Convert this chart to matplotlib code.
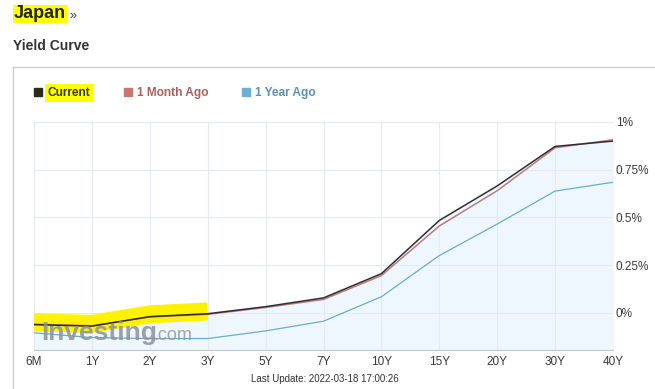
import numpy as np
import matplotlib.pyplot as plt
from matplotlib.lines import Line2D

plt.rcParams['font.family'] = ['Liberation Sans', 'DejaVu Sans']

tenors = ["6M", "1Y", "2Y", "3Y", "5Y", "7Y", "10Y", "15Y", "20Y", "30Y", "40Y"]
current = [-0.062, -0.07, -0.02, -0.005, 0.032, 0.078, 0.205, 0.484, 0.665, 0.872, 0.90]
month_ago = [-0.06, -0.068, -0.022, -0.008, 0.028, 0.07, 0.195, 0.455, 0.64, 0.865, 0.907]
year_ago = [-0.105, -0.13, -0.135, -0.135, -0.095, -0.044, 0.084, 0.30, 0.465, 0.638, 0.684]
y_ticks = [0, 0.25, 0.5, 0.75, 1.0]
y_labels = ["0%", "0.25%", "0.5%", "0.75%", "1%"]
n_highlight = 4  # 6M..3Y marked in yellow

x = np.arange(len(tenors))

fig = plt.figure(figsize=(6.55, 3.89), dpi=100)
ax = fig.add_axes([34 / 655, 1 - 350 / 389, 579 / 655, 228 / 389])

ymin, ymax = -0.195, 1.0
ax.fill_between(x, current, ymin, color="#eef7fd", zorder=1)
ax.plot(x[:n_highlight], np.array(current[:n_highlight]) + 0.012, color="#fff200",
        lw=13, solid_capstyle="butt", zorder=2)
ax.plot(x, year_ago, color="#6aaccd", lw=0.9, zorder=3)
ax.plot(x, month_ago, color="#c07a7a", lw=1.1, zorder=4)
ax.plot(x, current, color="#2e2e38", lw=1.1, zorder=5)

ax.set_xlim(0, len(tenors) - 1)
ax.set_ylim(ymin, ymax)
ax.set_xticks(x)
ax.set_xticklabels(tenors)
ax.set_yticks(y_ticks)
ax.set_yticklabels(y_labels)
ax.yaxis.tick_right()
ax.tick_params(axis="both", length=0, labelsize=8.5, colors="#3a3a3a")
ax.tick_params(axis="x", pad=4)
ax.tick_params(axis="y", pad=2)
ax.grid(True, color="#e6ebf2", lw=0.8, zorder=0)
for side in ["top", "left", "right"]:
    ax.spines[side].set_visible(False)
ax.spines["bottom"].set_color("#b8c8d8")

# watermark
ax.text(0.012, 0.075, "Investing", transform=ax.transAxes, fontsize=19, fontweight="bold",
        color="#8a929c", alpha=0.85, va="center", zorder=6)
ax.text(0.207, 0.065, ".com", transform=ax.transAxes, fontsize=13,
        color="#8a929c", alpha=0.8, va="center", zorder=6)

# page headings
fig.text(14 / 655, 1 - 14 / 389, "Japan", fontsize=13, fontweight="bold", color="#222222",
         va="center", bbox=dict(facecolor="#ffff00", edgecolor="none", pad=0.5))
fig.text(69 / 655, 1 - 16 / 389, "»", fontsize=9, color="#333333", va="center")
fig.text(13 / 655, 1 - 46 / 389, "Yield Curve", fontsize=10, fontweight="bold",
         color="#333333", va="center")

# chart container border
fig.add_artist(Line2D([13 / 655, 1], [1 - 67 / 389, 1 - 67 / 389], color="#cccccc", lw=1))
fig.add_artist(Line2D([13 / 655, 13 / 655], [0, 1 - 67 / 389], color="#cccccc", lw=1))

# legend
handles = [Line2D([], [], marker="s", ls="", color="#2b2b1a", markersize=6),
           Line2D([], [], marker="s", ls="", color="#c87670", markersize=6),
           Line2D([], [], marker="s", ls="", color="#6ab0d8", markersize=6)]
leg = fig.legend(handles, ["Current", "1 Month Ago", "1 Year Ago"], loc="center left",
                 bbox_to_anchor=(24 / 655, 1 - 93 / 389), ncol=3, frameon=False,
                 handlelength=0.6, handletextpad=0.5, columnspacing=2.8,
                 prop=dict(size=8.6, weight="bold"),
                 labelcolor=["#3a3a10", "#a86262", "#5f90b2"])
leg.get_texts()[0].set_bbox(dict(facecolor="#ffff00", edgecolor="none", pad=2))

fig.text(325 / 655, 1 - 379 / 389, "Last Update: 2022-03-18 17:00:26", fontsize=7,
         color="#333333", ha="center", va="center")

fig.savefig("out.png", dpi=100)
